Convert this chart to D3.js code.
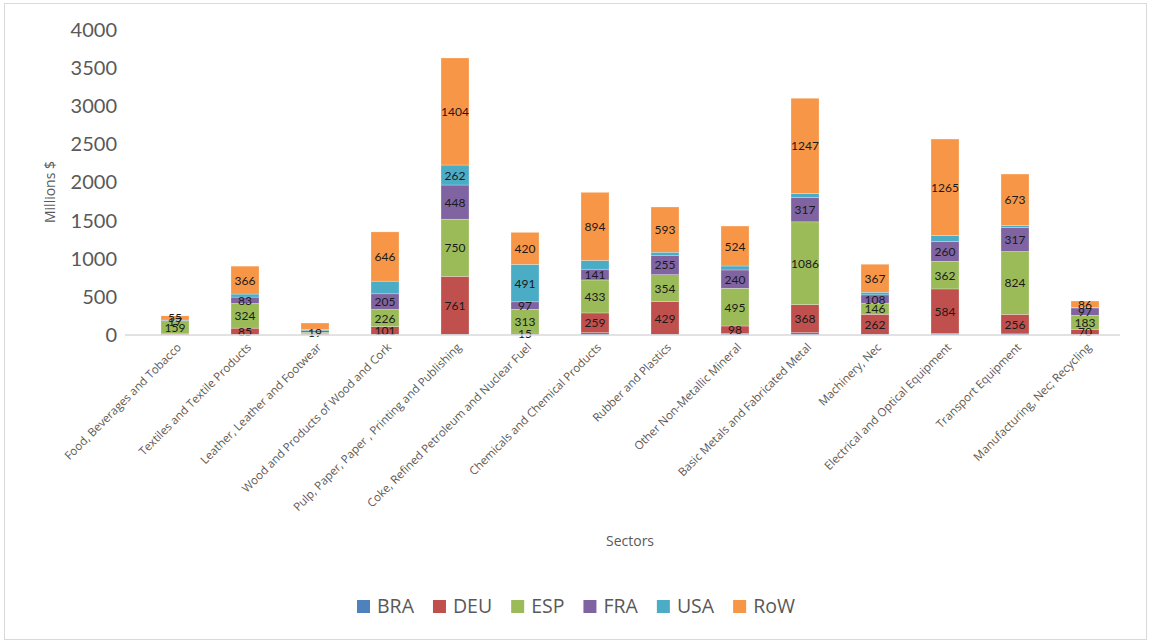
<!DOCTYPE html>
<meta charset="utf-8">
<style>
body { margin: 0; background: #fff; }
svg { display: block; }
.tick text { fill: #595959; font-family: Lato, "Open Sans", sans-serif; }
.axis-title { fill: #595959; font-family: "Open Sans", sans-serif; font-size: 14px; }
.cat { fill: #595959; font-family: "Open Sans", sans-serif; font-size: 11.5px; }
.lbl { fill: #1a1a1a; font-family: Lato, sans-serif; font-size: 12px; }
.legend text { fill: #595959; font-family: "Open Sans", sans-serif; font-size: 19.5px; }
</style>
<svg id="chart" width="1150" height="643"></svg>
<script src="https://d3js.org/d3.v7.min.js"></script>
<script>

var sectors = [
  "Food, Beverages and Tobacco",
  "Textiles and Textile Products",
  "Leather, Leather and Footwear",
  "Wood and Products of Wood and Cork",
  "Pulp, Paper, Paper , Printing and Publishing",
  "Coke, Refined Petroleum and Nuclear Fuel",
  "Chemicals and Chemical Products",
  "Rubber and Plastics",
  "Other Non-Metallic Mineral",
  "Basic Metals and Fabricated Metal",
  "Machinery, Nec",
  "Electrical and Optical Equipment",
  "Transport Equipment",
  "Manufacturing, Nec; Recycling"
];

var countries = ["BRA", "DEU", "ESP", "FRA", "USA", "RoW"];
var colors = ["#4f81bd", "#c0504d", "#9bbb59", "#8064a2", "#4bacc6", "#f79646"];

var BRA = [5, 5, 8, 8, 8, 10, 30, 8, 20, 30, 10, 20, 15, 5];
var DEU = [10, 85, 10, 101, 761, 15, 259, 429, 98, 368, 262, 584, 256, 70];
var ESP = [159, 324, 19, 226, 750, 313, 433, 354, 495, 1086, 146, 362, 824, 183];
var FRA = [17, 83, 20, 205, 448, 97, 141, 255, 240, 317, 108, 260, 317, 97];
var USA = [5, 40, 15, 166, 262, 491, 114, 40, 52, 57, 35, 79, 26, 5];
var RoW = [55, 366, 85, 646, 1404, 420, 894, 593, 524, 1247, 367, 1265, 673, 86];

// 1 = data label shown on that segment
var labBRA = [0, 0, 0, 0, 0, 0, 0, 0, 0, 0, 0, 0, 0, 0];
var labDEU = [0, 1, 0, 1, 1, 1, 1, 1, 1, 1, 1, 1, 1, 1];
var labESP = [1, 1, 1, 1, 1, 1, 1, 1, 1, 1, 1, 1, 1, 1];
var labFRA = [1, 1, 0, 1, 1, 1, 1, 1, 1, 1, 1, 1, 1, 1];
var labUSA = [0, 0, 0, 0, 1, 1, 0, 0, 0, 0, 0, 0, 0, 0];
var labRoW = [1, 1, 0, 1, 1, 1, 1, 1, 1, 1, 1, 1, 1, 1];

var yTicks = [0, 500, 1000, 1500, 2000, 2500, 3000, 3500, 4000];

var values = [BRA, DEU, ESP, FRA, USA, RoW];
var labels = [labBRA, labDEU, labESP, labFRA, labUSA, labRoW];

var rows = sectors.map(function(s, i) {
  var r = { sector: s };
  countries.forEach(function(c, k) { r[c] = values[k][i]; });
  return r;
});

var svg = d3.select("#chart");

// outer frame
svg.append("rect")
    .attr("x", 4.5).attr("y", 3.5)
    .attr("width", 1142).attr("height", 636)
    .attr("fill", "#fff").attr("stroke", "#d9d9d9");

var x = d3.scaleBand().domain(sectors).range([140, 1120]).paddingInner(0.6).paddingOuter(0.3);
var y = d3.scaleLinear().domain([0, 4000]).range([335, 30]);

var stack = d3.stack().keys(countries);
var series = stack(rows);

var g = svg.append("g");
series.forEach(function(s, k) {
  g.append("g")
      .attr("fill", colors[k])
    .selectAll("rect")
    .data(s)
    .enter().append("rect")
      .attr("x", function(d) { return x(d.data.sector); })
      .attr("width", x.bandwidth())
      .attr("y", function(d) { return y(d[1]); })
      .attr("height", function(d) { return y(d[0]) - y(d[1]); })
      .attr("stroke", "#fff")
      .attr("stroke-opacity", 0.5)
      .attr("stroke-width", 0.5);
});

// axis line
svg.append("line")
    .attr("x1", 125).attr("x2", 1120)
    .attr("y1", y(0)).attr("y2", y(0))
    .attr("stroke", "#d9d9d9").attr("stroke-width", 1.5);

// y axis
var yAxis = svg.append("g")
    .attr("transform", "translate(117,0)")
    .call(d3.axisLeft(y).tickValues(yTicks).tickFormat(d3.format("d")).tickSize(0).tickPadding(0));
yAxis.select(".domain").remove();
yAxis.selectAll("text").style("font-size", "20px");

// data labels
series.forEach(function(s, k) {
  g.append("g").selectAll("text")
    .data(s.filter(function(d, i) { return labels[k][i]; }))
    .enter().append("text")
      .attr("class", "lbl")
      .attr("text-anchor", "middle")
      .attr("x", function(d) { return x(d.data.sector) + x.bandwidth() / 2; })
      .attr("y", function(d) { return (y(d[0]) + y(d[1])) / 2 + 4.5; })
      .text(function(d) { return d[1] - d[0]; });
});

// category labels
svg.append("g").selectAll("text")
  .data(sectors)
  .enter().append("text")
    .attr("class", "cat")
    .attr("text-anchor", "end")
    .attr("transform", function(d) {
      return "translate(" + (x(d) + x.bandwidth() / 2 + 7) + ",348) rotate(-45)";
    })
    .text(function(d) { return d; });

svg.append("text")
    .attr("class", "axis-title")
    .attr("text-anchor", "middle")
    .attr("transform", "translate(55,192) rotate(-90)")
    .text("Millions $");

svg.append("text")
    .attr("class", "axis-title")
    .attr("text-anchor", "middle")
    .attr("x", 630).attr("y", 546)
    .text("Sectors");

// legend
var legend = svg.append("g").attr("class", "legend");
var lx = 357;
countries.forEach(function(c, k) {
  legend.append("rect")
      .attr("x", lx).attr("y", 600)
      .attr("width", 13).attr("height", 13)
      .attr("fill", colors[k]);
  var t = legend.append("text")
      .attr("x", lx + 20).attr("y", 613)
      .text(c);
  lx += 20 + t.node().getComputedTextLength() + 19;
});

</script>
